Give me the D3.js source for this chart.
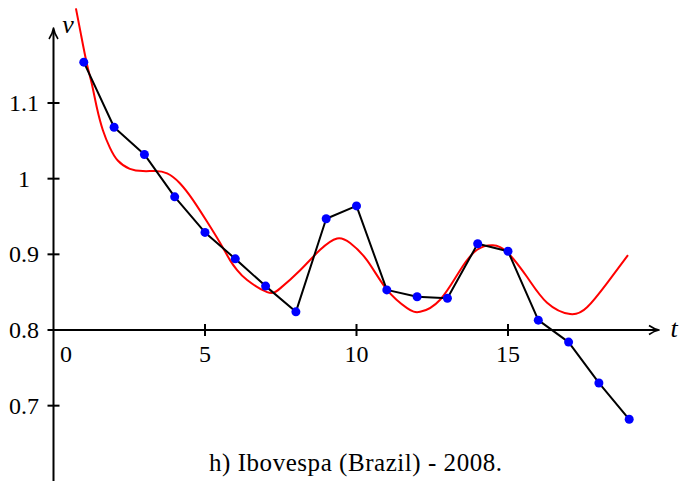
<!DOCTYPE html>
<html><head><meta charset="utf-8">
<script src="https://cdn.jsdelivr.net/npm/d3@7"></script>
<style>html,body{margin:0;padding:0;background:#fff;}svg{display:block;}</style>
</head><body>
<svg id="c" width="679" height="483"></svg>
<script>
// Observed data (t, v)
const times = [1,2,3,4,5,6,7,8,9,10,11,12,13,14,15,16,17,18,19];
const values = [1.154,1.068,1.032,0.976,0.929,0.894,0.858,0.824,0.947,0.964,0.853,0.844,0.842,0.914,0.904,0.813,0.784,0.730,0.682];
// Fitted curve samples
const fitT = [0.74,0.90,1.10,1.26,1.43,1.63,1.86,2.12,2.52,2.95,3.35,3.75,4.17,4.60,5.07,5.50,5.83,6.06,6.39,7.05,7.48,8.14,8.80,9.36,9.79,10.35,11.01,11.67,12.10,12.76,13.42,13.98,14.50,14.97,15.63,16.29,17.05,17.61,18.27,18.96];
const fitV = [1.225,1.192,1.152,1.126,1.094,1.064,1.041,1.024,1.013,1.010,1.010,1.007,0.994,0.972,0.943,0.915,0.892,0.879,0.866,0.850,0.855,0.879,0.906,0.921,0.915,0.892,0.853,0.829,0.824,0.840,0.879,0.906,0.912,0.903,0.870,0.836,0.821,0.830,0.862,0.899];
const xTicks = [5,10,15];
const xTickLabels = ["5","10","15"];
const yTicks = [0.7,0.8,0.9,1,1.1];
const yTickLabels = ["0.7","0.8","0.9","1","1.1"];
const title = "h) Ibovespa (Brazil) - 2008.";

const svg = d3.select("#c");
const x = d3.scaleLinear().domain([0,19]).range([53.5,629.2]);
const y = d3.scaleLinear().domain([0.8,1.1]).range([330,103]);
const fs = 24;
const FF = "Liberation Serif";
const x0 = x(0), y0 = y(0.8);

// axes
svg.append("line").attr("x1",x0).attr("x2",657).attr("y1",y0).attr("y2",y0)
  .attr("stroke","#000").attr("stroke-width",2);
svg.append("line").attr("x1",x0).attr("x2",x0).attr("y1",481).attr("y2",30)
  .attr("stroke","#000").attr("stroke-width",2);
// arrowheads
svg.append("path").attr("d",`M${x0-4.5},${39} Q${x0-1},${34} ${x0},${28} Q${x0+1},${34} ${x0+4.5},${39}`)
  .attr("fill","none").attr("stroke","#000").attr("stroke-width",1.6).attr("stroke-linejoin","round");
svg.append("path").attr("d",`M${649},${y0-4.5} Q${654},${y0-1} ${659},${y0} Q${654},${y0+1} ${649},${y0+4.5}`)
  .attr("fill","none").attr("stroke","#000").attr("stroke-width",1.6).attr("stroke-linejoin","round");

// x ticks
svg.selectAll(".xt").data(xTicks).enter().append("line")
  .attr("x1",d=>x(d)).attr("x2",d=>x(d)).attr("y1",y0-6).attr("y2",y0+6)
  .attr("stroke","#000").attr("stroke-width",2);
svg.selectAll(".xl").data(xTicks).enter().append("text")
  .attr("x",d=>x(d)).attr("y",y0+32).attr("text-anchor","middle")
  .style("font-family",FF).style("font-size",fs+"px").text((d,i)=>xTickLabels[i]);
svg.append("text").attr("x",x0+12.5).attr("y",y0+32).attr("text-anchor","middle")
  .style("font-family",FF).style("font-size",fs+"px").text("0");
// y ticks
svg.selectAll(".yt").data(yTicks).enter().append("line")
  .attr("x1",x0-6).attr("x2",x0+6).attr("y1",d=>y(d)).attr("y2",d=>y(d))
  .attr("stroke","#000").attr("stroke-width",2);
svg.selectAll(".yl").data(yTicks).enter().append("text")
  .attr("x",24).attr("y",d=>y(d)+8).attr("text-anchor","middle")
  .style("font-family",FF).style("font-size",fs+"px").text((d,i)=>yTickLabels[i]);

// axis labels
svg.append("text").attr("x",68).attr("y",33).attr("text-anchor","middle")
  .style("font-family",FF).style("font-style","italic").style("font-size",(fs+2)+"px").text("v");
svg.append("text").attr("x",674).attr("y",337).attr("text-anchor","middle")
  .style("font-family",FF).style("font-style","italic").style("font-size",(fs+2)+"px").text("t");

// fitted curve
const fit = fitT.map((t,i)=>[t,fitV[i]]);
svg.append("path").datum(fit)
  .attr("d",d3.line().x(d=>x(d[0])).y(d=>y(d[1])).curve(d3.curveNatural))
  .attr("fill","none").attr("stroke","#ff0000").attr("stroke-width",2);

// data line
const pts = times.map((t,i)=>[t,values[i]]);
svg.append("path").datum(pts)
  .attr("d",d3.line().x(d=>x(d[0])).y(d=>y(d[1])))
  .attr("fill","none").attr("stroke","#000").attr("stroke-width",2).attr("stroke-linejoin","round");
svg.selectAll(".pt").data(pts).enter().append("circle")
  .attr("cx",d=>x(d[0])).attr("cy",d=>y(d[1])).attr("r",4.5).attr("fill","#0000ff");

// caption
svg.append("text").attr("x",209).attr("y",471)
  .style("font-family",FF).style("font-size",(fs+1)+"px")
  .attr("textLength",293).attr("lengthAdjust","spacing").text(title);
</script>
</body></html>
